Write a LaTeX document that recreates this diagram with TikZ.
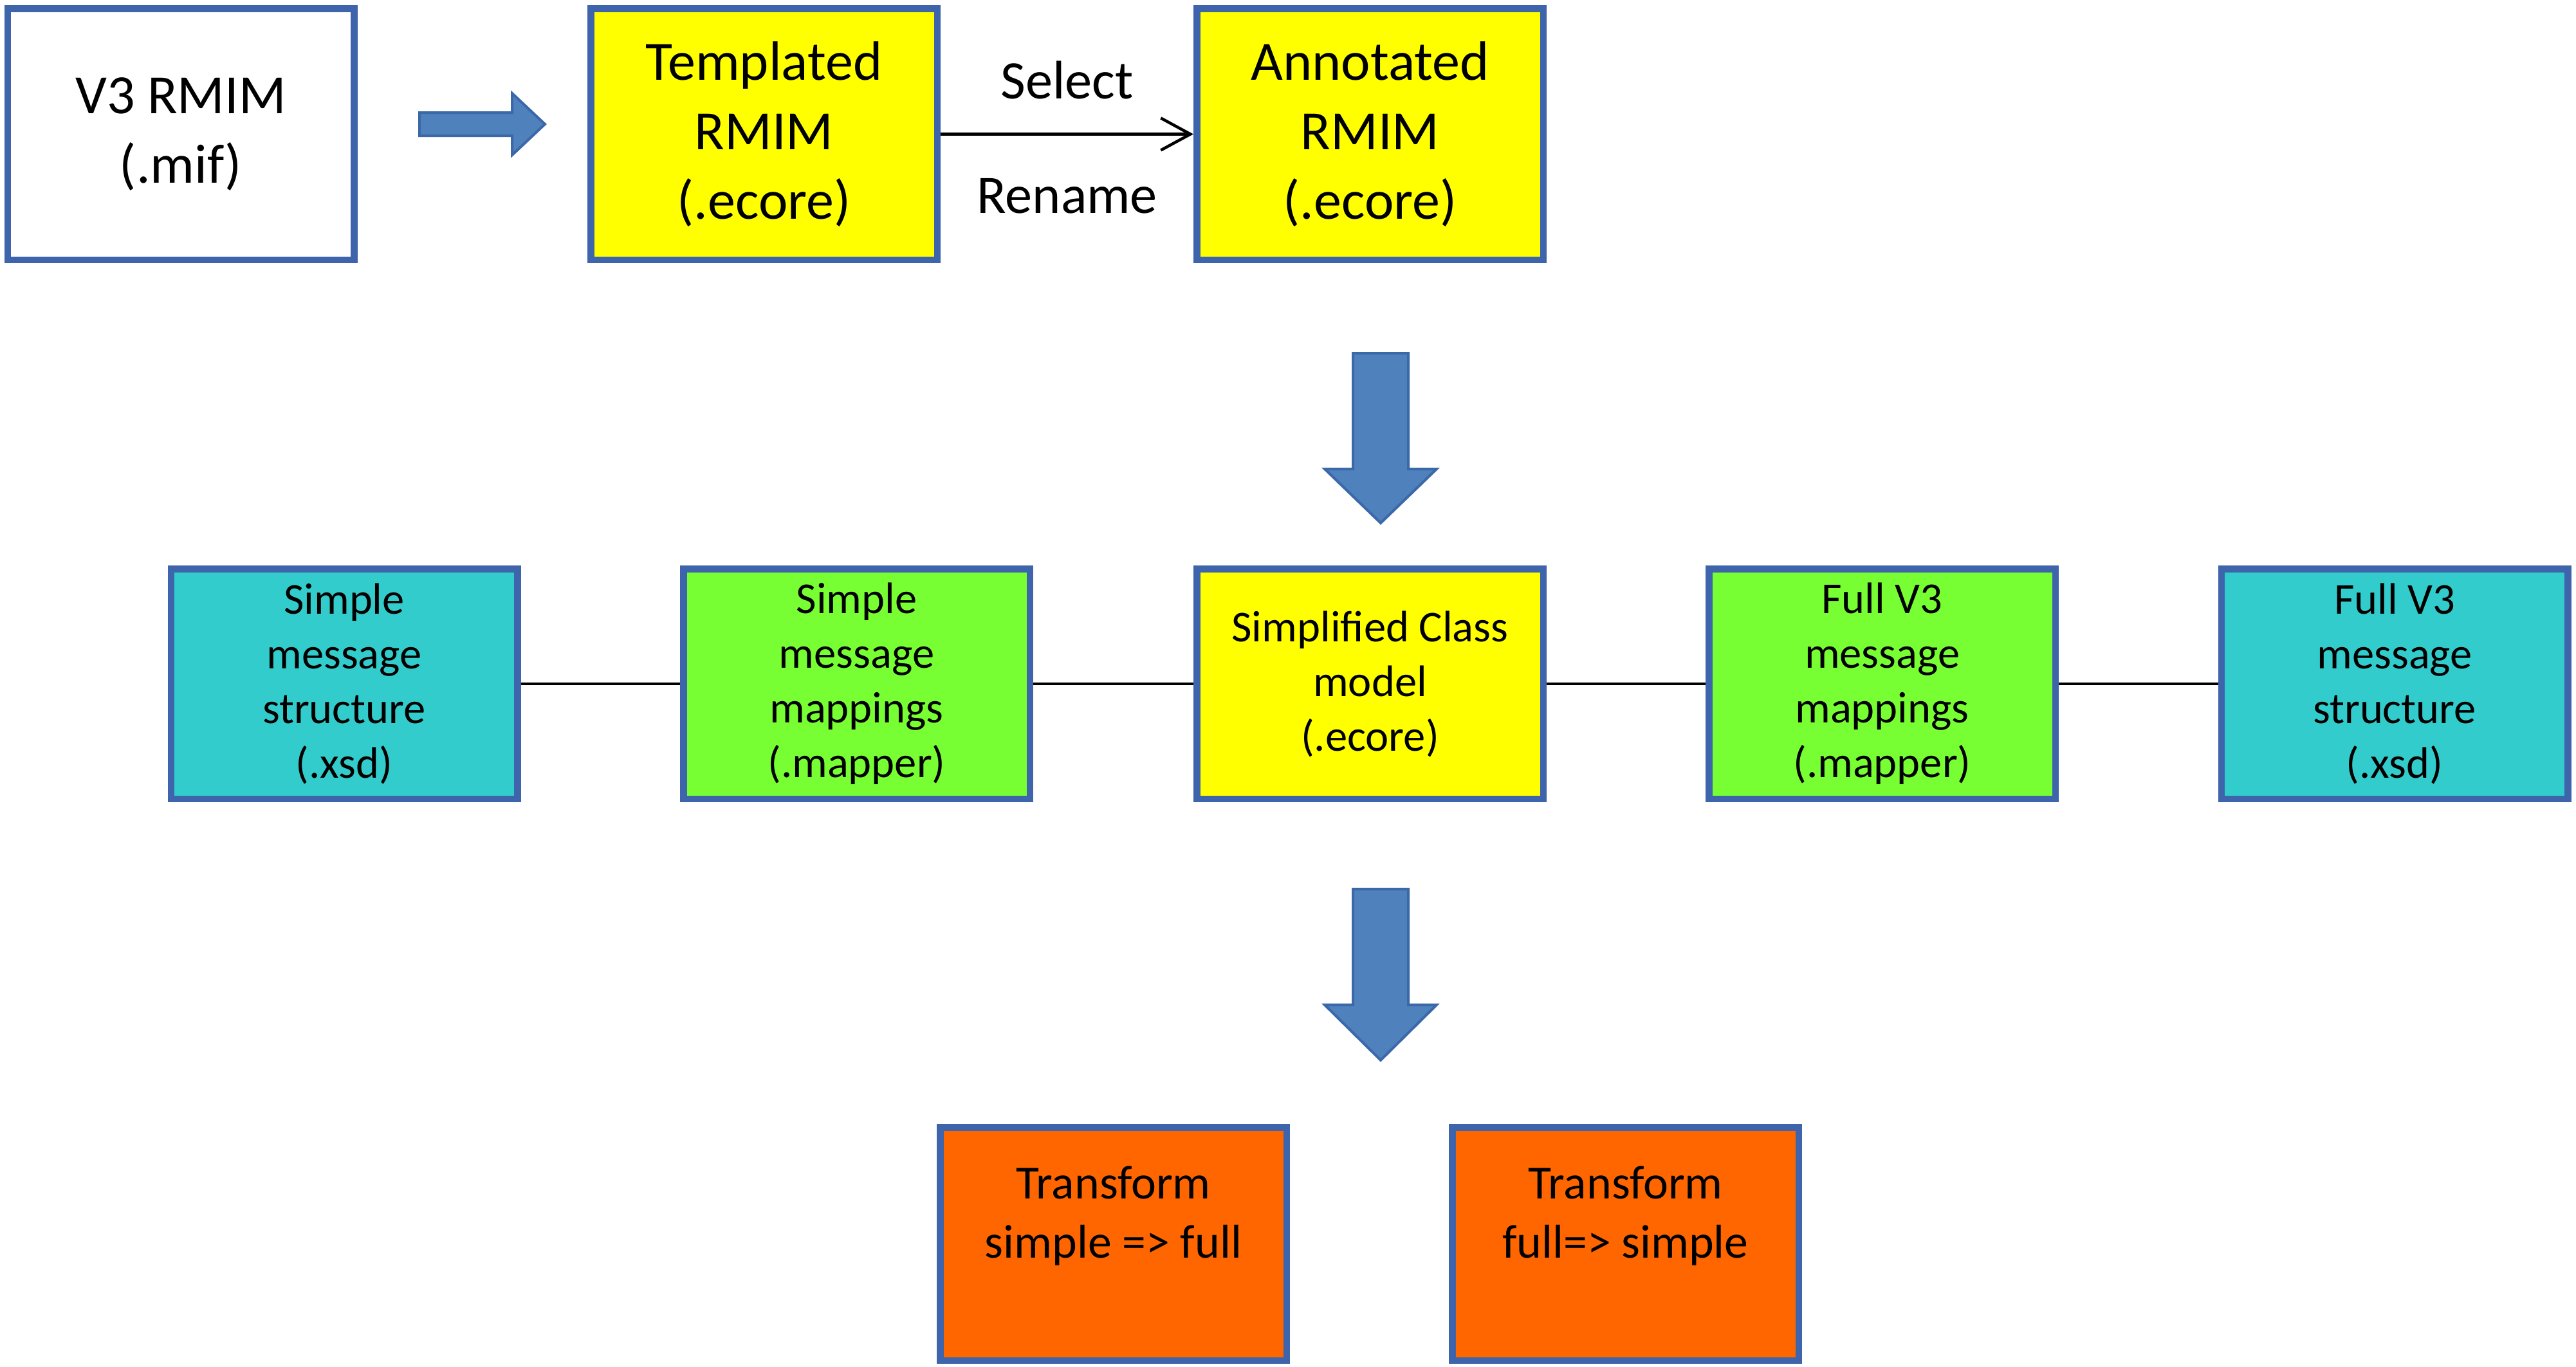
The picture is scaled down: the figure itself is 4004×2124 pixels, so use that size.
\documentclass[tikz,border=0pt]{standalone}
\usepackage{fontspec}
\setmainfont{Carlito}
\usetikzlibrary{arrows.meta}
\definecolor{bordc}{HTML}{3E64AC}
\definecolor{arrfill}{HTML}{4F81BD}
\definecolor{arrdraw}{HTML}{3A68A8}
\definecolor{ylw}{HTML}{FFFF00}
\definecolor{cyn}{HTML}{33CCCC}
\definecolor{grn}{HTML}{77FF33}
\definecolor{orng}{HTML}{FF6600}
\begin{document}
\begin{tikzpicture}[x=0.1mm,y=-0.1mm,
 box/.style={draw=bordc, line width=1.05mm, minimum width=53.85mm, inner sep=0pt, align=center, text=black},
 rowone/.style={box, minimum height=39.05mm, font=\fontsize{24.5}{30.8}\selectfont},
 rowtwo/.style={box, minimum height=35.75mm, font=\fontsize{19.5}{24.2}\selectfont},
 rowthree/.style={box, minimum height=36.25mm},
 txtthree/.style={align=center, inner sep=0pt, font=\fontsize{21}{26.2}\selectfont},
 lbl/.style={inner sep=0pt, font=\fontsize{24}{29.5}\selectfont},
 bigarrow/.style={fill=arrfill, draw=arrdraw, line width=0.4mm, line join=miter},
 conn/.style={line width=0.45mm, draw=black}]
\fill[white] (0,0) rectangle (4004,2124);
\useasboundingbox (0,0) rectangle (4004,2124);

% Row 1
\node[rowone, fill=white] (v3) at (281,208.5) {V3 RMIM\\(.mif)};
\node[rowone, fill=ylw] (templ) at (1187.5,208.5) {Templated\\RMIM\\(.ecore)};
\node[rowone, fill=ylw] (annot) at (2129.5,208.5) {Annotated\\RMIM\\(.ecore)};
\draw[conn, -{Straight Barb[length=4.6mm,width=5mm,line width=0.45mm]}] (templ.east) -- (annot.west)
  node[lbl, midway, yshift=8.4mm] (sel) {Select}
  node[lbl, midway, yshift=-9.6mm] (ren) {Rename};

% right block arrow
\draw[bigarrow] (652,175) -- (796,175) -- (796,145) -- (847,193) -- (796,241) -- (796,211) -- (652,211) -- cycle;

% down block arrows
\draw[bigarrow] (2103,549) -- (2189,549) -- (2189,729) -- (2233,729) -- (2146,813) -- (2059,729) -- (2103,729) -- cycle;
\draw[bigarrow] (2103,1382) -- (2189,1382) -- (2189,1562) -- (2233,1562) -- (2146,1648) -- (2059,1562) -- (2103,1562) -- cycle;

% Row 2
\node[rowtwo, fill=cyn] (sstruct) at (535,1063) {Simple\\message\\structure\\(.xsd)};
\node[rowtwo, fill=grn] (smap) at (1331.5,1063) {Simple\\message\\mappings\\(.mapper)};
\node[rowtwo, fill=ylw] (scm) at (2129.5,1063) {Simplified Class\\model\\(.ecore)};
\node[rowtwo, fill=grn] (fmap) at (2925.5,1063) {Full V3\\message\\mappings\\(.mapper)};
\node[rowtwo, fill=cyn] (fstruct) at (3722,1063) {Full V3\\message\\structure\\(.xsd)};
\draw[conn] (sstruct) -- (smap);
\draw[conn] (smap) -- (scm);
\draw[conn] (scm) -- (fmap);
\draw[conn] (fmap) -- (fstruct);

% Row 3
\node[rowthree, fill=orng] (t1) at (1730.5,1933.5) {};
\node[rowthree, fill=orng] (t2) at (2526.5,1933.5) {};
\node[txtthree] (t1txt) at (1730.5,1890) {Transform\\simple => full};
\node[txtthree] (t2txt) at (2526.5,1890) {Transform\\full=> simple};
\end{tikzpicture}
\end{document}
